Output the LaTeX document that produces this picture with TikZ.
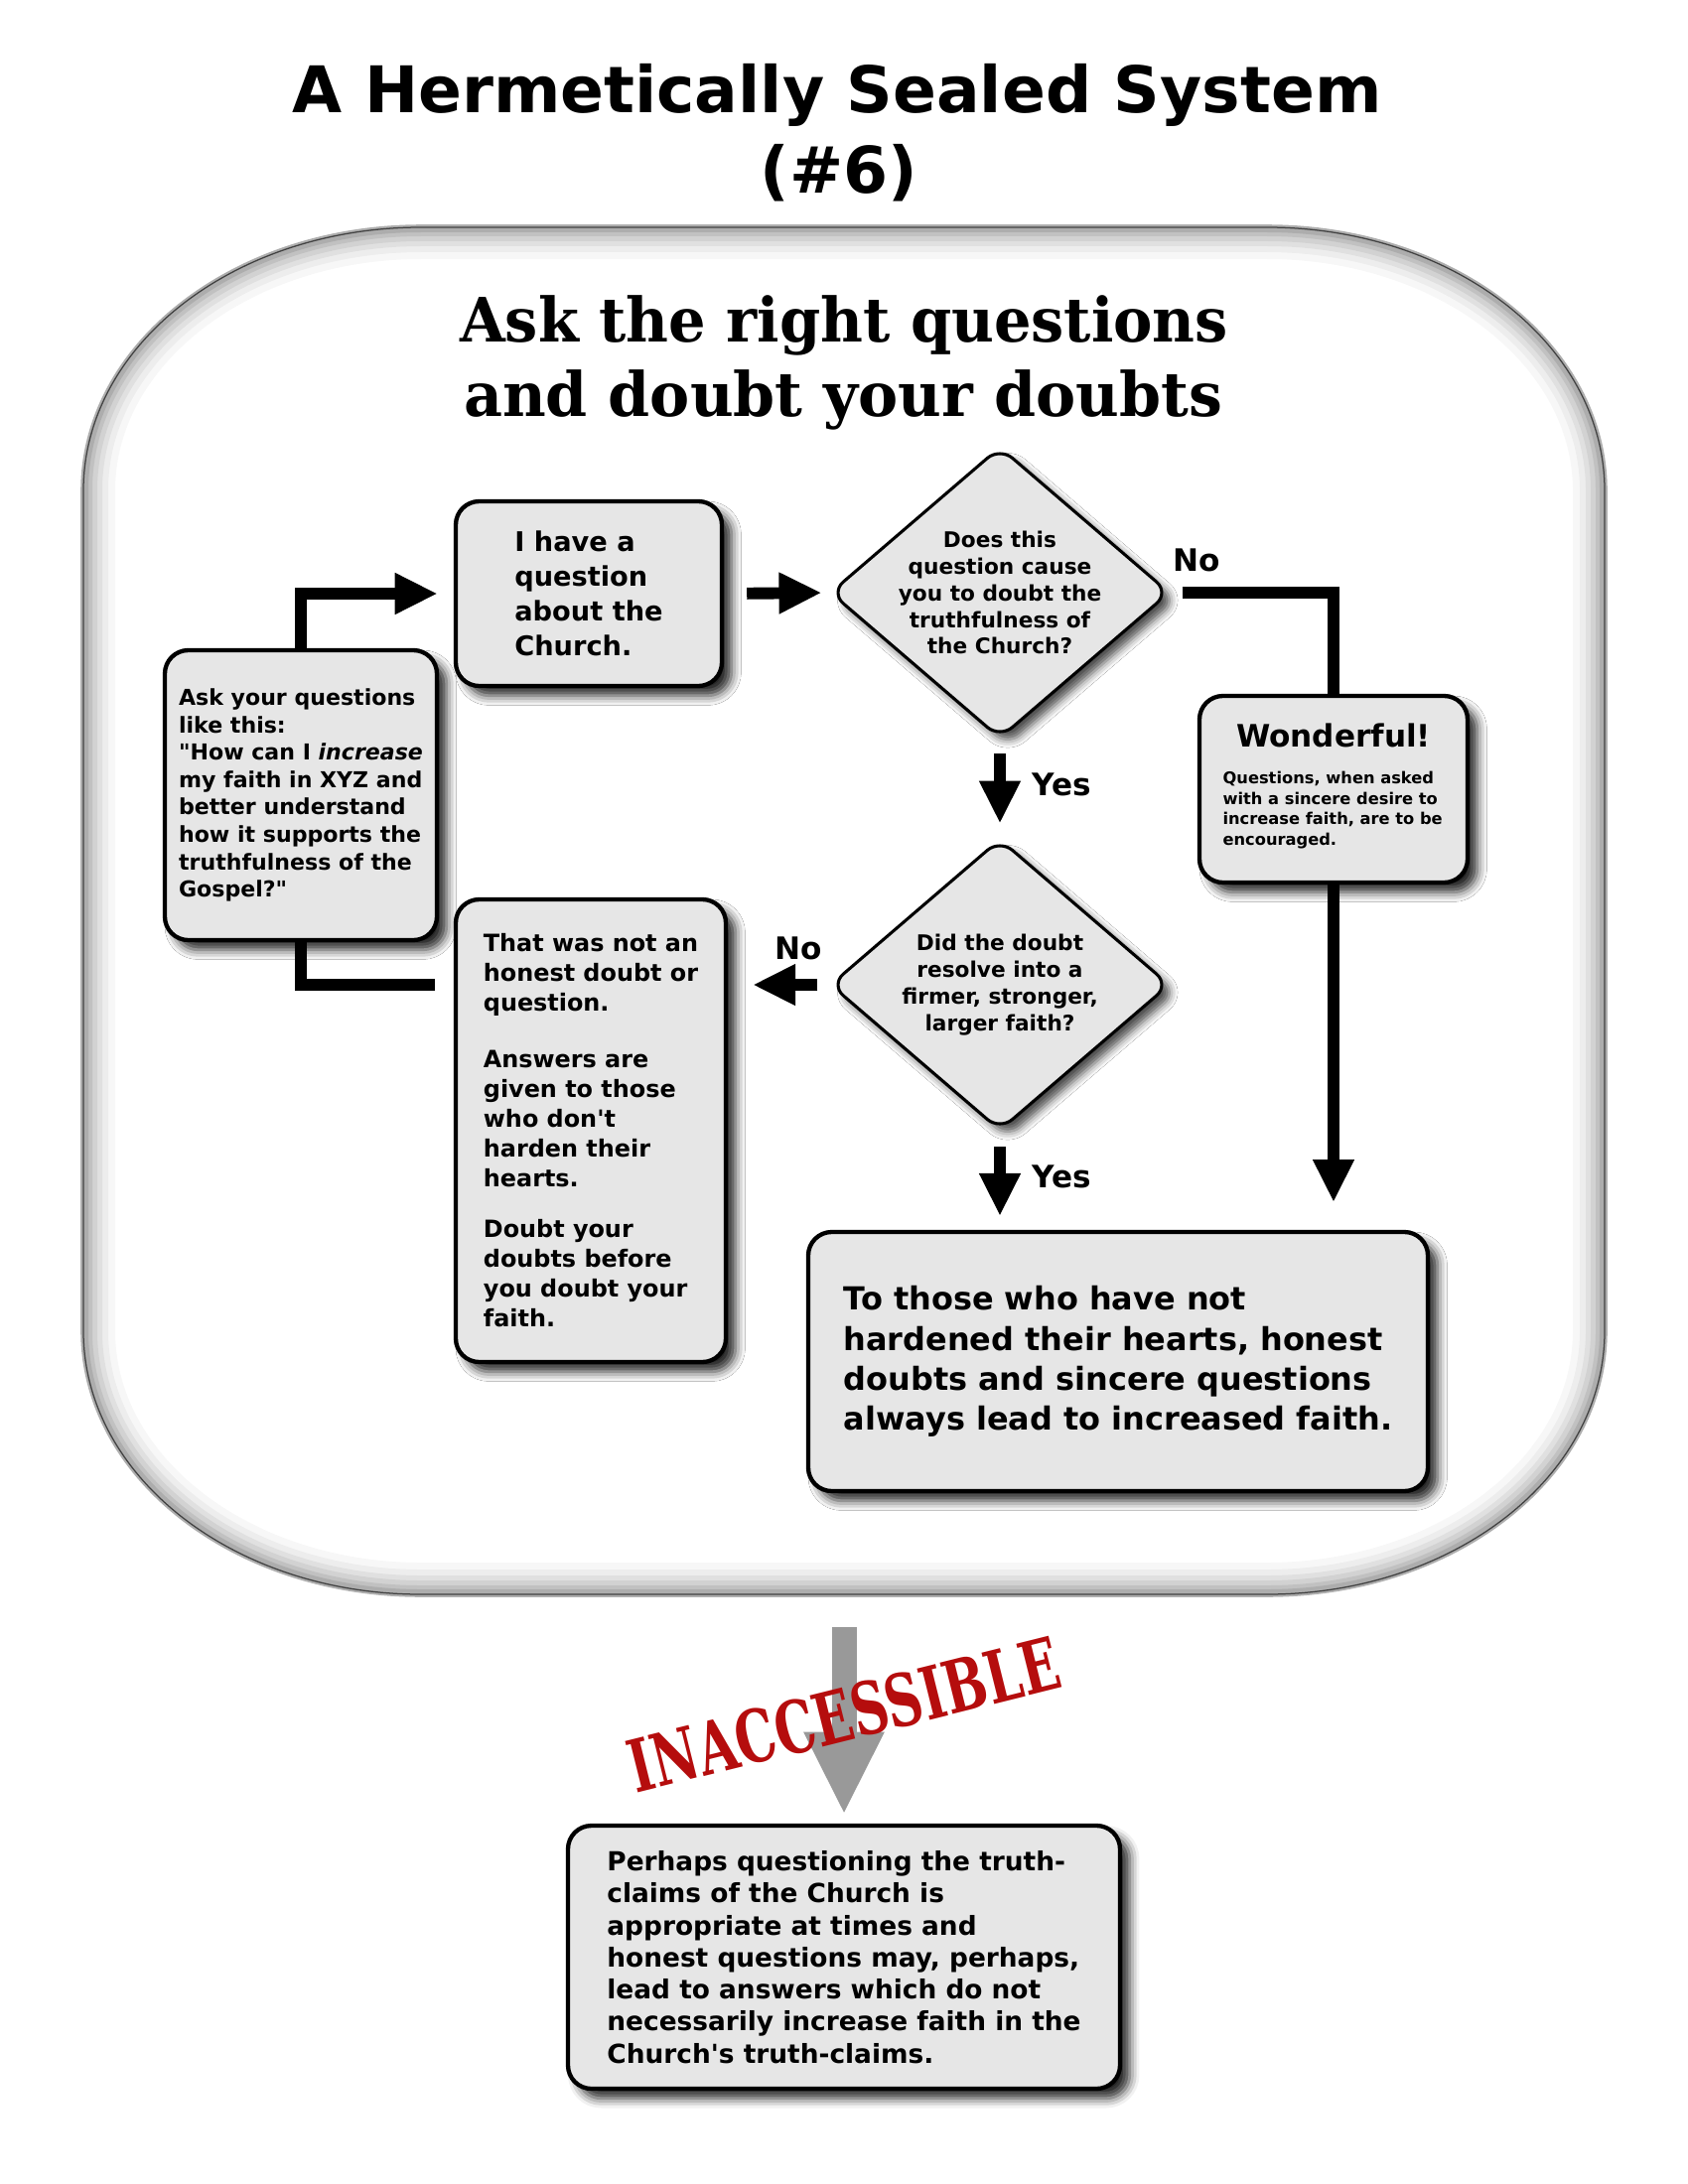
\documentclass[tikz,border=0pt]{standalone}
\usepackage{fontspec}
\usepackage{graphicx}
\setmainfont{DejaVu Sans}[Ligatures=TeXOff]
\newfontfamily\subserif{DejaVu Serif}
\newfontfamily\stampfont{DejaVu Serif}
\usetikzlibrary{shapes.geometric,arrows.meta,shadows.blur,calc}
\definecolor{boxfill}{HTML}{E6E6E6}
\definecolor{stampred}{HTML}{B50D0D}
\definecolor{garrow}{HTML}{999999}
\newcommand\pxl{0.36pt}
\newcommand\fs[2]{\bfseries\fontsize{#1pt}{#2pt}\selectfont}
\tikzset{
  fbox/.style={draw=black, line width=1.55pt, fill=boxfill, rounded corners=8.5pt,
    align=left, inner sep=0pt,
    blur shadow={shadow xshift=3.5pt, shadow yshift=-3.5pt, shadow blur radius=3.5pt, shadow opacity=85}},
  dbox/.style={diamond, draw=black, line width=1.1pt, fill=boxfill, rounded corners=6pt, inner sep=0pt,
    blur shadow={shadow xshift=2.8pt, shadow yshift=-2.8pt, shadow blur radius=3pt, shadow opacity=70}},
  flow/.style={line width=4.3pt, draw=black},
  tipped/.style={-{Triangle[length=15.5pt,width=14pt]}},
  lbl/.style={font=\fs{11.2}{13}},
}
\begin{document}
\begin{tikzpicture}[x=0.36pt, y=-0.36pt]
\useasboundingbox (0,0) rectangle (1700,2200);
\def\outerpath{(424,229) -- (1276,229) arc[start angle=270, end angle=360, x radius=340, y radius=265]
  -- (1616,1341) arc[start angle=0, end angle=90, x radius=340, y radius=265]
  -- (424,1606) arc[start angle=90, end angle=180, x radius=340, y radius=265]
  -- (84,494) arc[start angle=180, end angle=270, x radius=340, y radius=265] -- cycle}
% glass frame
\fill[white] \outerpath;
\begin{scope}
  \clip \outerpath;
  \foreach \w/\o in {64/0.03,50/0.04,38/0.05,28/0.06,18/0.08,10/0.10,4/0.15}
    \draw[line width=\w*\pxl, black, opacity=\o] \outerpath;
\end{scope}
\draw[line width=2pt, black!32] \outerpath;
\draw[line width=0.45pt, black!75] \outerpath;
\coordinate (obot) at (850,1606);

% titles
\node[font=\fs{23.3}{28}, anchor=base] (t1) at (843,114) {A Hermetically Sealed System};
\node[font=\fs{23.3}{28}, anchor=base] (t2) at (845,195) {(\#6)};
\node[font=\subserif\fs{22.2}{26}, anchor=base] (s1) at (850,345) {\resizebox{278.6pt}{\height}{Ask the right questions}};
\node[font=\subserif\fs{22.2}{26}, anchor=base] (s2) at (849,420) {\resizebox{275pt}{\height}{and doubt your doubts}};

% boxes
\node[fbox, minimum width=268*\pxl, minimum height=186*\pxl, font=\fs{9.8}{12.6}] (q1) at (593,598)
  {I have a\\question\\about the\\Church.};
\node[fbox, minimum width=274*\pxl, minimum height=292*\pxl, font=\fs{7.95}{9.94}] (ask) at (303,801)
  {Ask your questions\\like this:\\"How can I \textit{increase}\\my faith in XYZ and\\better understand\\how it supports the\\truthfulness of the\\Gospel?"};
\node[dbox, minimum width=342*\pxl, minimum height=294*\pxl] (d1) at (1007,597) {};
\node[font=\fs{7.8}{9.7}, align=center] (d1t) at (d1.center)
  {Does this\\question cause\\you to doubt the\\truthfulness of\\the Church?};
\node[fbox, minimum width=270*\pxl, minimum height=188*\pxl] (won) at (1343,795) {};
\node[font=\fs{11.2}{13}, inner sep=0pt] (wont) at (1343,741) {Wonderful!};
\node[font=\fs{5.86}{7.4}, align=left, anchor=west, inner sep=0pt] (wons) at (1231,816)
  {Questions, when asked\\with a sincere desire to\\increase faith, are to be\\encouraged.};
\node[dbox, minimum width=342*\pxl, minimum height=294*\pxl] (d2) at (1007,992) {};
\node[font=\fs{7.8}{9.7}, align=center] (d2t) at (d2.center)
  {Did the doubt\\resolve into a\\firmer, stronger,\\larger faith?};
\node[fbox, minimum width=272*\pxl, minimum height=466*\pxl, font=\fs{8.6}{10.8}] (b6) at (595,1139)
  {That was not an\\honest doubt or\\question.\\[9.4pt]Answers are\\given to those\\who don't\\harden their\\hearts.\\[7.9pt]Doubt your\\doubts before\\you doubt your\\faith.};
\node[fbox, minimum width=624*\pxl, minimum height=261*\pxl, font=\fs{11.5}{14.5}] (big) at (1126,1371.5)
  {To those who have not\\hardened their hearts, honest\\doubts and sincere questions\\always lead to increased faith.};
\node[fbox, minimum width=556*\pxl, minimum height=265*\pxl, font=\fs{9.5}{11.6}] (bot) at (850,1971.5)
  {Perhaps questioning the truth-\\claims of the Church is\\appropriate at times and\\honest questions may, perhaps,\\lead to answers which do not\\necessarily increase faith in the\\Church's truth-claims.};

% connectors
\draw[flow, tipped, shorten >=5.8pt] (ask.north) |- (q1.west);
\draw[flow, tipped, shorten <=8.3pt, shorten >=2.5pt] (q1.east) -- (d1.west);
\draw[flow, shorten <=4pt] (d1.east) -| (won.north);
\node[lbl] (no1) at (1205,564) {No};
\draw[flow, tipped, shorten <=5pt, shorten >=5pt] (d1.south) -- (d2.north);
\node[lbl, anchor=west] (yes1) at (1030,790) {Yes};
\draw[flow, tipped, shorten <=4pt, shorten >=9pt] (d2.west) -- (b6.east |- d2.west);
\node[lbl] (no2) at (804,955) {No};
\draw[flow, tipped, shorten <=5.3pt, shorten >=5pt] (d2.south) -- (d2.south |- big.north);
\node[lbl, anchor=west] (yes2) at (1030,1185) {Yes};
\draw[flow, tipped, shorten >=10pt] (won.south) -- (won.south |- big.north);
\draw[flow, shorten >=6.8pt] (ask.south) |- (b6.west |- d2.west);

% inaccessible path
\draw[line width=9pt, garrow, -{Triangle[length=30pt,width=27pt]}, shorten <=12pt, shorten >=3.2pt] (obot) -- (bot.north);
\node[rotate=14, text=stampred, font=\stampfont\bfseries] (stamp) at (850,1727) {\resizebox{160pt}{19.5pt}{INACCESSIBLE}};
\end{tikzpicture}
\end{document}
